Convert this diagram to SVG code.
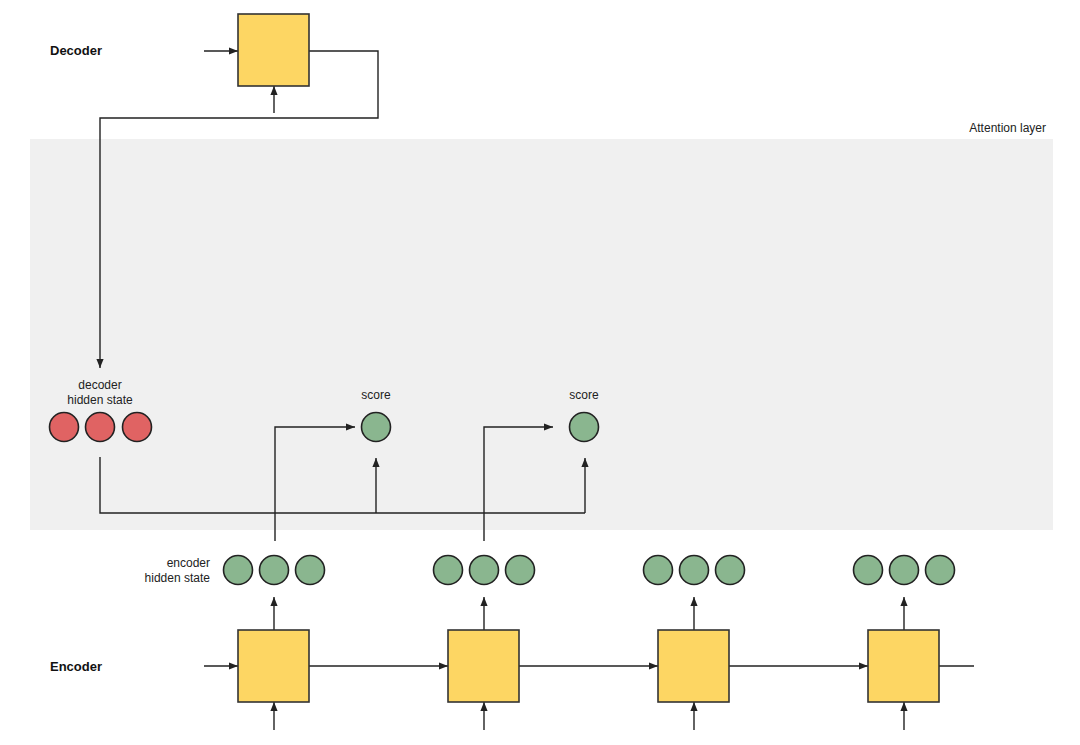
<svg xmlns="http://www.w3.org/2000/svg" width="1080" height="745" viewBox="0 0 1080 745">
<defs>
<marker id="arr" viewBox="0 0 10 10" refX="10" refY="5" markerWidth="9" markerHeight="9" markerUnits="userSpaceOnUse" orient="auto"><path d="M0,1 L10,5 L0,9 z" fill="#222"/></marker>
<style>
.box{fill:#fdd663;stroke:#333;stroke-width:1.6}
.g{fill:#8ab68f;stroke:#222;stroke-width:1.6}
.r{fill:#e06363;stroke:#222;stroke-width:1.6}
.ln{fill:none;stroke:#222;stroke-width:1.4}
.a{marker-end:url(#arr)}
.t{font-family:"Liberation Sans",Arial,sans-serif;font-size:12px;fill:#222}
.b{font-family:"Liberation Sans",Arial,sans-serif;font-size:13px;font-weight:bold;fill:#111}
</style>
</defs>
<rect x="0" y="0" width="1080" height="745" fill="#fff"/>
<rect id="attention-layer" x="30" y="139" width="1023" height="391" fill="#f0f0f0"/>
<text class="t" x="1046" y="132" text-anchor="end" font-size="11">Attention layer</text>
<text class="b" x="50" y="55">Decoder</text>
<text class="b" x="50" y="671">Encoder</text>

<g id="connectors">
<line class="ln a" x1="204" y1="51" x2="238" y2="51"/>
<line class="ln a" x1="274" y1="113" x2="274" y2="86"/>
<polyline class="ln a" points="309,51 378,51 378,118 100,118 100,368"/>
<polyline class="ln" points="100,457 100,513 585,513"/>
<line class="ln a" x1="376" y1="513" x2="376" y2="458"/>
<line class="ln a" x1="585" y1="513" x2="585" y2="458"/>
<polyline class="ln a" points="275,541 275,427 355,427"/>
<polyline class="ln a" points="484,541 484,427 553,427"/>
<line class="ln a" x1="204" y1="666" x2="238" y2="666"/>
<line class="ln a" x1="309" y1="666" x2="448" y2="666"/>
<line class="ln a" x1="519" y1="666" x2="658" y2="666"/>
<line class="ln a" x1="729" y1="666" x2="868" y2="666"/>
<line class="ln" x1="939" y1="666" x2="974" y2="666"/>
<line class="ln a" x1="274" y1="630" x2="274" y2="597"/>
<line class="ln a" x1="484" y1="630" x2="484" y2="597"/>
<line class="ln a" x1="694" y1="630" x2="694" y2="597"/>
<line class="ln a" x1="904" y1="630" x2="904" y2="597"/>
<line class="ln a" x1="274" y1="730" x2="274" y2="702"/>
<line class="ln a" x1="484" y1="730" x2="484" y2="702"/>
<line class="ln a" x1="694" y1="730" x2="694" y2="702"/>
<line class="ln a" x1="904" y1="730" x2="904" y2="702"/>
</g>

<g id="decoder"><rect class="box" x="238" y="14" width="71" height="72"/></g>

<g id="decoder-hidden-state">
<text class="t" x="100" y="389" text-anchor="middle">decoder</text>
<text class="t" x="100" y="404" text-anchor="middle">hidden state</text>
<circle class="r" cx="64" cy="427" r="14.5"/>
<circle class="r" cx="100" cy="427" r="14.5"/>
<circle class="r" cx="137" cy="427" r="14.5"/>
</g>

<g id="score-1">
<text class="t" x="376" y="399" text-anchor="middle" font-size="13">score</text>
<circle class="g" cx="376" cy="427" r="14.5"/>
</g>
<g id="score-2">
<text class="t" x="584" y="399" text-anchor="middle" font-size="13">score</text>
<circle class="g" cx="584" cy="427" r="14.5"/>
</g>

<g id="encoder-hidden-1">
<text class="t" x="210" y="567" text-anchor="end" font-size="11">encoder</text>
<text class="t" x="210" y="582" text-anchor="end" font-size="11">hidden state</text>
<circle class="g" cx="238" cy="570" r="14.5"/>
<circle class="g" cx="274" cy="570" r="14.5"/>
<circle class="g" cx="310" cy="570" r="14.5"/>
</g>
<g id="encoder-hidden-2">
<circle class="g" cx="448" cy="570" r="14.5"/>
<circle class="g" cx="484" cy="570" r="14.5"/>
<circle class="g" cx="520" cy="570" r="14.5"/>
</g>
<g id="encoder-hidden-3">
<circle class="g" cx="658" cy="570" r="14.5"/>
<circle class="g" cx="694" cy="570" r="14.5"/>
<circle class="g" cx="730" cy="570" r="14.5"/>
</g>
<g id="encoder-hidden-4">
<circle class="g" cx="868" cy="570" r="14.5"/>
<circle class="g" cx="904" cy="570" r="14.5"/>
<circle class="g" cx="940" cy="570" r="14.5"/>
</g>

<g id="encoder-1"><rect class="box" x="238" y="630" width="71" height="72"/></g>
<g id="encoder-2"><rect class="box" x="448" y="630" width="71" height="72"/></g>
<g id="encoder-3"><rect class="box" x="658" y="630" width="71" height="72"/></g>
<g id="encoder-4"><rect class="box" x="868" y="630" width="71" height="72"/></g>
</svg>
